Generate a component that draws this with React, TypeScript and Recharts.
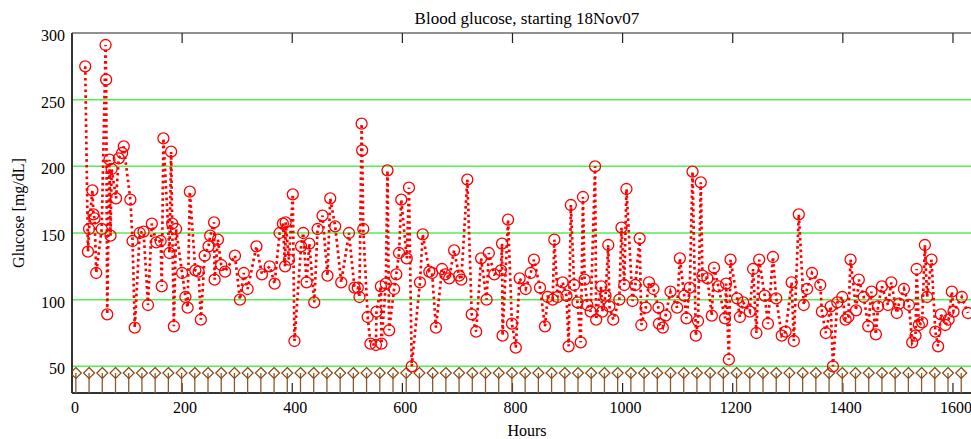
import { ComposedChart, Line, Scatter, XAxis, YAxis, ReferenceLine } from 'recharts'

// readings: hours since start, glucose in mg/dL
const HOURS = [
  24, 29, 31, 37, 39, 41, 44, 54, 61, 62, 64, 68, 70, 72, 80, 85, 91, 94, 106, 110,
  114, 123, 130, 138, 145, 153, 161, 163, 166, 177, 180, 182, 185, 189, 200, 206, 210, 214, 224, 230,
  234, 241, 248, 251, 258, 259, 265, 271, 278, 296, 305, 312, 319, 335, 345, 359, 368, 377, 383, 387,
  388, 394, 401, 404, 416, 420, 426, 431, 440, 446, 455, 464, 469, 478, 489, 503, 513, 519, 522, 526,
  527, 529, 537, 542, 552, 553, 561, 562, 570, 573, 576, 585, 589, 594, 598, 608, 612, 617, 632, 637,
  649, 654, 661, 672, 678, 685, 694, 703, 707, 718, 726, 734, 743, 753, 757, 767, 779, 781, 782, 792,
  799, 806, 813, 824, 833, 839, 850, 859, 864, 873, 876, 882, 891, 898, 902, 906, 912, 918, 924, 928,
  931, 936, 942, 950, 952, 961, 963, 969, 974, 976, 983, 994, 998, 1003, 1007, 1018, 1023, 1031, 1034, 1042,
  1048, 1056, 1065, 1066, 1073, 1078, 1087, 1099, 1104, 1112, 1116, 1122, 1127, 1133, 1137, 1142, 1145, 1154, 1162, 1166,
  1174, 1186, 1188, 1193, 1196, 1208, 1213, 1219, 1231, 1237, 1243, 1248, 1258, 1264, 1273, 1279, 1289, 1296, 1307, 1311,
  1320, 1329, 1335, 1344, 1359, 1362, 1369, 1378, 1382, 1390, 1399, 1405, 1410, 1414, 1424, 1429, 1438, 1446, 1452, 1460,
  1464, 1471, 1482, 1488, 1498, 1502, 1511, 1520, 1526, 1532, 1534, 1538, 1544, 1549, 1553, 1561, 1568, 1573, 1578, 1586,
  1592, 1598, 1601, 1616, 1627,
]
const GLUCOSE = [
  275, 136, 153, 182, 164, 161, 120, 153, 291, 265, 89, 205, 148, 198, 176, 206, 210, 215, 175, 144,
  79, 150, 151, 96, 157, 143, 144, 110, 221, 135, 211, 157, 80, 153, 120, 102, 94, 181, 122, 121,
  85, 133, 140, 148, 158, 115, 145, 126, 121, 133, 100, 120, 108, 140, 119, 125, 112, 150, 157, 125,
  158, 130, 179, 69, 140, 150, 113, 142, 98, 153, 163, 118, 176, 155, 113, 150, 109, 109, 102, 232,
  212, 153, 87, 67, 66, 91, 110, 67, 112, 197, 77, 108, 119, 135, 175, 131, 184, 50, 113, 149,
  121, 120, 79, 123, 119, 116, 137, 118, 115, 190, 89, 76, 131, 100, 135, 119, 122, 142, 73, 160,
  82, 64, 116, 108, 120, 130, 109, 80, 102, 100, 145, 102, 113, 103, 65, 171, 111, 98, 68, 177,
  115, 96, 91, 200, 85, 110, 91, 103, 141, 95, 85, 100, 154, 111, 183, 99, 111, 146, 81, 94,
  113, 108, 94, 82, 79, 88, 106, 94, 131, 103, 86, 109, 196, 73, 84, 188, 118, 116, 88, 124,
  110, 86, 112, 55, 130, 101, 87, 98, 91, 123, 75, 130, 103, 82, 132, 101, 73, 76, 113, 69,
  164, 96, 108, 120, 111, 91, 75, 95, 50, 98, 102, 85, 87, 130, 92, 115, 102, 80, 106, 74,
  95, 110, 96, 113, 90, 97, 108, 96, 68, 73, 123, 81, 83, 141, 102, 130, 76, 65, 89, 81,
  85, 106, 91, 102, 90,
]
// once-a-day markers along the bottom
const DAY_MARKS = [
  7, 31, 55, 79, 103, 127, 151, 175, 199, 223, 247, 271, 295, 319, 343, 367, 391, 415, 439, 463,
  487, 511, 535, 559, 583, 607, 631, 655, 679, 703, 727, 751, 775, 799, 823, 847, 871, 895, 919, 943,
  967, 991, 1015, 1039, 1063, 1087, 1111, 1135, 1159, 1183, 1207, 1231, 1255, 1279, 1303, 1327, 1351, 1375, 1399, 1423,
  1447, 1471, 1495, 1519, 1543, 1567, 1591, 1615,
]
const DAY_LEVEL = 45
const X_TICKS = [0, 200, 400, 600, 800, 1000, 1200, 1400, 1600]
const Y_TICKS = [50, 100, 150, 200, 250, 300]
const GRID_LEVELS = [50, 100, 150, 200, 250]

const readings = HOURS.map((h, i) => ({ h, v: GLUCOSE[i] }))
const days = DAY_MARKS.map(h => ({ h, v: DAY_LEVEL }))

const FONT = '"Liberation Serif", "DejaVu Serif", serif'
const PLOT_BOTTOM = 393
const RED = '#ff0000'
const BROWN = '#8b5a2b'

function XTick({ x, y, payload }: any) {
  return (
    <text x={x + 3} y={y + 20} textAnchor="middle" fontFamily={FONT} fontSize={16} fill="#000">
      {payload.value}
    </text>
  )
}

function YTick({ x, y, payload }: any) {
  return (
    <text x={x} y={y + 8} textAnchor="end" fontFamily={FONT} fontSize={16} fill="#000">
      {payload.value}
    </text>
  )
}

function Ring({ cx, cy }: any) {
  if (cx == null || cy == null) return null
  return <circle cx={cx} cy={cy} r={5.5} fill="none" stroke={RED} strokeWidth={1.3} />
}

function DayMark({ cx, cy }: any) {
  if (cx == null || cy == null) return null
  return (
    <g>
      <line x1={cx} y1={cy} x2={cx} y2={PLOT_BOTTOM} stroke={BROWN} strokeWidth={1.3} />
      <path d={`M${cx},${cy - 5.5}L${cx + 5.5},${cy}L${cx},${cy + 5.5}L${cx - 5.5},${cy}Z`}
        fill="none" stroke="#8b4513" strokeWidth={1.2} />
    </g>
  )
}

export default function App() {
  return (
    <div style={{ position: 'absolute', left: 0, top: 0, width: 971, height: 439, overflow: 'hidden', background: '#fff' }}>
      <ComposedChart width={1000} height={439} margin={{ top: 33, right: 19.5, bottom: 0, left: 0 }}>
        <XAxis dataKey="h" type="number" domain={[0, 1650]} ticks={X_TICKS} interval={0}
          height={46} tickSize={0} tickMargin={0} tickLine={false}
          axisLine={{ stroke: '#333', strokeWidth: 2 }} tick={<XTick />} allowDataOverflow />
        <YAxis type="number" domain={[30, 300]} ticks={Y_TICKS} interval={0}
          width={72} tickSize={0} tickMargin={7} tickLine={false}
          axisLine={{ stroke: '#333', strokeWidth: 2 }} tick={<YTick />} allowDataOverflow />
        {GRID_LEVELS.map(g => (
          <ReferenceLine key={`g${g}`} y={g} stroke="#55ee55" strokeWidth={1.5} />
        ))}
        <ReferenceLine y={300} stroke="#222" strokeWidth={1.2} />
        {X_TICKS.map(t => (
          <ReferenceLine key={`tb${t}`} segment={[{ x: t, y: 30 }, { x: t, y: 37.5 }]} stroke="#222" strokeWidth={1.2} />
        ))}
        {X_TICKS.map(t => (
          <ReferenceLine key={`tt${t}`} segment={[{ x: t, y: 300 }, { x: t, y: 292.5 }]} stroke="#222" strokeWidth={1.2} />
        ))}
        <Scatter data={days} dataKey="v" isAnimationActive={false}
          shape={(p: any) => <DayMark {...p} />} />
        <Line data={readings} dataKey="v" type="linear" stroke={RED} strokeWidth={2.7}
          strokeDasharray="2.6 3.2" isAnimationActive={false} activeDot={false}
          dot={(p: any) => <Ring key={`d${p.index}`} {...p} />} />
      </ComposedChart>
      <svg width={971} height={439} style={{ position: 'absolute', left: 0, top: 0, pointerEvents: 'none' }}>
        <text x={527} y={24} textAnchor="middle" fontFamily={FONT} fontSize={17} fill="#000">
          Blood glucose, starting 18Nov07
        </text>
        <text x={527} y={436} textAnchor="middle" fontFamily={FONT} fontSize={16} fill="#000">
          Hours
        </text>
        <text transform="translate(24,213) rotate(-90)" textAnchor="middle" fontFamily={FONT} fontSize={16} fill="#000">
          Glucose [mg/dL]
        </text>
      </svg>
    </div>
  )
}
